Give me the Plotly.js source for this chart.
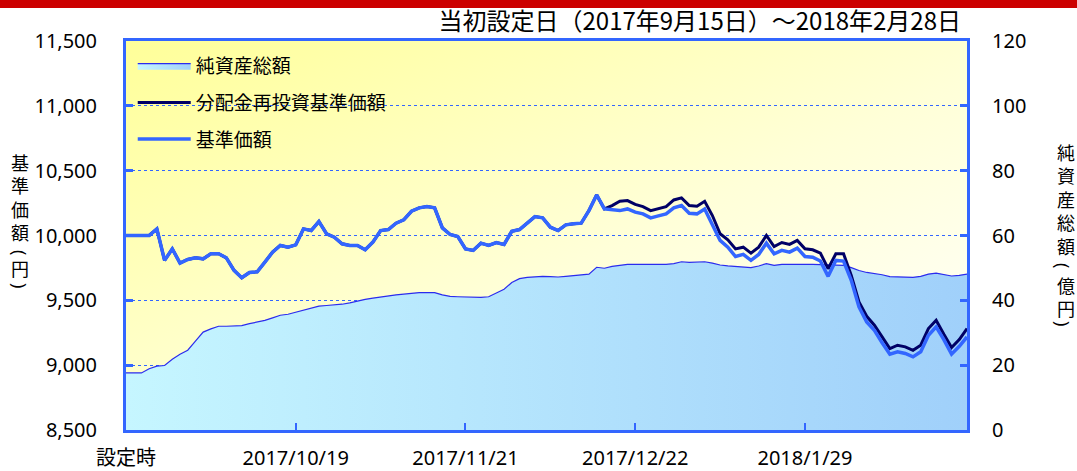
<!DOCTYPE html>
<html>
<head>
<meta charset="utf-8">
<script src="https://cdn.plot.ly/plotly-3.0.1.min.js"></script>
<style>
html,body{margin:0;padding:0;background:#fff;}
#band{position:absolute;left:0;top:0;width:1077px;height:8px;background:#CC0000;z-index:5;}
#chart{position:absolute;left:0;top:0;width:1077px;height:471px;}
</style>
</head>
<body>
<div id="chart"></div>
<div id="band"></div>
<script>
// ---- data (one value per business day, 2017/9/15 .. 2018/2/28) ----
const tickIdx = [0, 22, 44, 66, 88];
const tickLabels = ['設定時', '2017/10/19', '2017/11/21', '2017/12/22', '2018/1/29'];

const nav = [
10000,10000,10000,10000,10051,9808,9897,9787,9815,9828,
9820,9859,9859,9828,9731,9674,9715,9720,9795,9872,
9923,9910,9928,10051,10038,10108,10013,9987,9936,9923,
9923,9890,9949,10038,10046,10095,10121,10187,10213,10223,
10213,10059,10008,9992,9897,9885,9941,9923,9946,9931,
10033,10046,10095,10146,10136,10064,10038,10082,10090,10095,
10192,10313,10205,10200,10192,10205,10180,10167,10136,10151,
10167,10213,10231,10172,10167,10205,10090,9962,9910,9838,
9854,9808,9854,9941,9859,9885,9872,9903,9838,9833,
9803,9685,9808,9803,9654,9449,9333,9269,9172,9085,
9103,9090,9064,9103,9231,9295,9197,9085,9146,9218
];

const navReinv = [
10000,10000,10000,10000,10051,9808,9897,9787,9815,9828,
9820,9859,9859,9828,9731,9674,9715,9720,9795,9872,
9923,9910,9928,10051,10038,10108,10013,9987,9936,9923,
9923,9890,9949,10038,10046,10095,10121,10187,10213,10223,
10213,10059,10008,9992,9897,9885,9941,9923,9946,9931,
10033,10046,10095,10146,10136,10064,10038,10082,10090,10095,
10192,10313,10205,10231,10264,10269,10240,10223,10192,10208,
10223,10274,10290,10231,10226,10264,10154,10013,9967,9897,
9910,9864,9910,10000,9915,9946,9931,9962,9897,9890,
9864,9744,9859,9859,9692,9487,9377,9308,9218,9128,
9154,9141,9115,9154,9282,9346,9238,9136,9197,9282
];

const aum = [
17.6,17.6,17.6,18.9,19.7,19.9,21.8,23.4,24.6,27.4,
30.2,31.2,32.0,32.0,32.1,32.2,32.8,33.3,33.8,34.6,
35.4,35.7,36.3,37.1,37.5,38.2,38.4,38.5,38.8,39.2,
39.8,40.3,40.7,41.1,41.4,41.7,41.9,42.2,42.4,42.4,
42.4,41.7,41.2,41.1,41.0,40.8,40.9,41.1,42.3,43.4,
45.5,46.7,47.1,47.3,47.4,47.3,47.2,47.4,47.6,47.7,
48.1,50.2,49.9,50.5,50.8,51.1,51.1,51.1,51.0,51.0,
51.1,51.3,51.9,51.7,51.8,51.9,51.5,50.9,50.6,50.4,
50.3,50.1,50.6,51.3,50.8,51.1,51.1,51.2,51.1,51.1,
51.0,51.0,50.9,50.8,50.1,49.2,48.6,48.3,47.9,47.3,
47.2,47.2,47.1,47.4,48.1,48.4,48.0,47.5,47.7,48.1
];

const navTicks = [8500, 9000, 9500, 10000, 10500, 11000, 11500];
const aumTicks = [0, 20, 40, 60, 80, 100, 120];

// vertical axis titles: 基準価額（円） / 純資産総額（億円）
const leftTitleParts = ['基<br>準<br>価<br>額', '(', '円', ')'];
const rightTitleParts = ['純<br>資<br>産<br>総<br>額', '(', '億<br>円', ')'];

// ---- chart ----
const xs = nav.map((_, i) => i);
const FONT = 'Noto Sans, Noto Sans CJK JP, sans-serif';
const CJK = 'Noto Sans CJK JP, sans-serif';
const AXIS = '#3366FF';

const bgSvg = "<svg xmlns='http://www.w3.org/2000/svg' width='100' height='100' preserveAspectRatio='none'>" +
  "<defs><linearGradient id='g' x1='0' y1='0' x2='1' y2='1'>" +
  "<stop offset='0' stop-color='#FFFF99'/><stop offset='0.55' stop-color='#FFFFD8'/><stop offset='1' stop-color='#FFFFFF'/>" +
  "</linearGradient></defs><rect width='100' height='100' fill='url(#g)'/></svg>";
const bgUri = 'data:image/svg+xml;charset=utf-8,' + encodeURIComponent(bgSvg);

const traces = [
  {
    x: xs, y: aum, name: '純資産総額', type: 'scatter', mode: 'lines',
    yaxis: 'y', fill: 'tozeroy',
    line: {color: '#2B2BEE', width: 1.2},
    fillcolor: '#B4E4FF',
    fillgradient: {type: 'horizontal', colorscale: [[0, '#C6F6FF'], [1, '#A0D0FA']]},
    legendgroup: 'a', hoverinfo: 'skip'
  },
  {
    x: xs, y: navReinv, name: '分配金再投資基準価額', type: 'scatter', mode: 'lines',
    yaxis: 'y2', line: {color: '#000066', width: 3},
    legendgroup: 'b', hoverinfo: 'skip'
  },
  {
    x: xs, y: nav, name: '基準価額', type: 'scatter', mode: 'lines',
    yaxis: 'y2', line: {color: '#3366FF', width: 3.5},
    legendgroup: 'c', hoverinfo: 'skip'
  }
];

// pixel centres of each title part (from the reference)
const leftCentres = [196.5, 252, 268, 285];
const rightCentres = [199, 265, 296.5, 323];
const annotations = [];
function addColumn(parts, centres, px, parenPx) {
  parts.forEach((t, i) => {
    const isParen = (t === '(' || t === ')');
    annotations.push({
      text: t, xref: 'paper', yref: 'paper',
      x: ((isParen ? parenPx : px) - 126) / 841, y: (430 - centres[i]) / 389,
      xanchor: 'center', yanchor: 'middle', showarrow: false,
      textangle: isParen ? 90 : 0,
      font: {family: isParen ? FONT : CJK, size: 18, color: '#000'}
    });
  });
}
addColumn(leftTitleParts, leftCentres, 20, 20);
addColumn(rightTitleParts, rightCentres, 1066, 1063);

const layout = {
  width: 1077, height: 471,
  margin: {l: 126, r: 110, t: 41, b: 41, pad: 0},
  paper_bgcolor: '#FFFFFF',
  plot_bgcolor: 'rgba(0,0,0,0)',
  font: {family: FONT, size: 20, color: '#000'},
  title: {
    text: '当初設定日（2017年9月15日）～2018年2月28日',
    font: {family: CJK, size: 24, color: '#000'},
    x: 961 / 1077, xanchor: 'right', xref: 'container',
    y: 1 - 22 / 471, yanchor: 'middle', yref: 'container'
  },
  showlegend: true,
  legend: {
    x: 0.008, xanchor: 'left', y: 0.985, yanchor: 'top',
    bgcolor: 'rgba(0,0,0,0)', borderwidth: 0,
    font: {family: CJK, size: 19, color: '#000'},
    traceorder: 'grouped', tracegroupgap: 9, itemwidth: 53
  },
  xaxis: {
    range: [0, nav.length - 1], fixedrange: true,
    showgrid: false, zeroline: false,
    showline: true, linecolor: AXIS, linewidth: 3, mirror: true,
    ticks: 'inside', ticklen: 7, tickwidth: 2, tickcolor: AXIS,
    tickmode: 'array', tickvals: tickIdx, ticktext: tickLabels,
    tickfont: {family: FONT, size: 20, color: '#000'},
    ticklabelstandoff: 8
  },
  yaxis: {
    range: [0, 120], side: 'right', fixedrange: true,
    tickmode: 'array', tickvals: aumTicks,
    showgrid: true, gridcolor: AXIS, gridwidth: 1, griddash: 'dot',
    zeroline: false,
    showline: true, linecolor: AXIS, linewidth: 3,
    ticks: 'inside', ticklen: 7, tickwidth: 3, tickcolor: AXIS,
    tickfont: {family: FONT, size: 20, color: '#000'},
    ticklabelstandoff: 18
  },
  yaxis2: {
    range: [8500, 11500], side: 'left', overlaying: 'y', fixedrange: true,
    tickmode: 'array', tickvals: navTicks, tickformat: ',d',
    showgrid: false, zeroline: false,
    showline: true, linecolor: AXIS, linewidth: 3,
    ticks: 'inside', ticklen: 7, tickwidth: 3, tickcolor: AXIS,
    tickfont: {family: FONT, size: 20, color: '#000'},
    ticklabelstandoff: 22
  },
  images: [{
    source: bgUri, xref: 'paper', yref: 'paper', x: 0, y: 1,
    sizex: 1, sizey: 1, sizing: 'stretch', xanchor: 'left', yanchor: 'top',
    layer: 'below'
  }],
  annotations: annotations
};

Plotly.newPlot('chart', traces, layout, {displayModeBar: false, staticPlot: true});
</script>
</body>
</html>
